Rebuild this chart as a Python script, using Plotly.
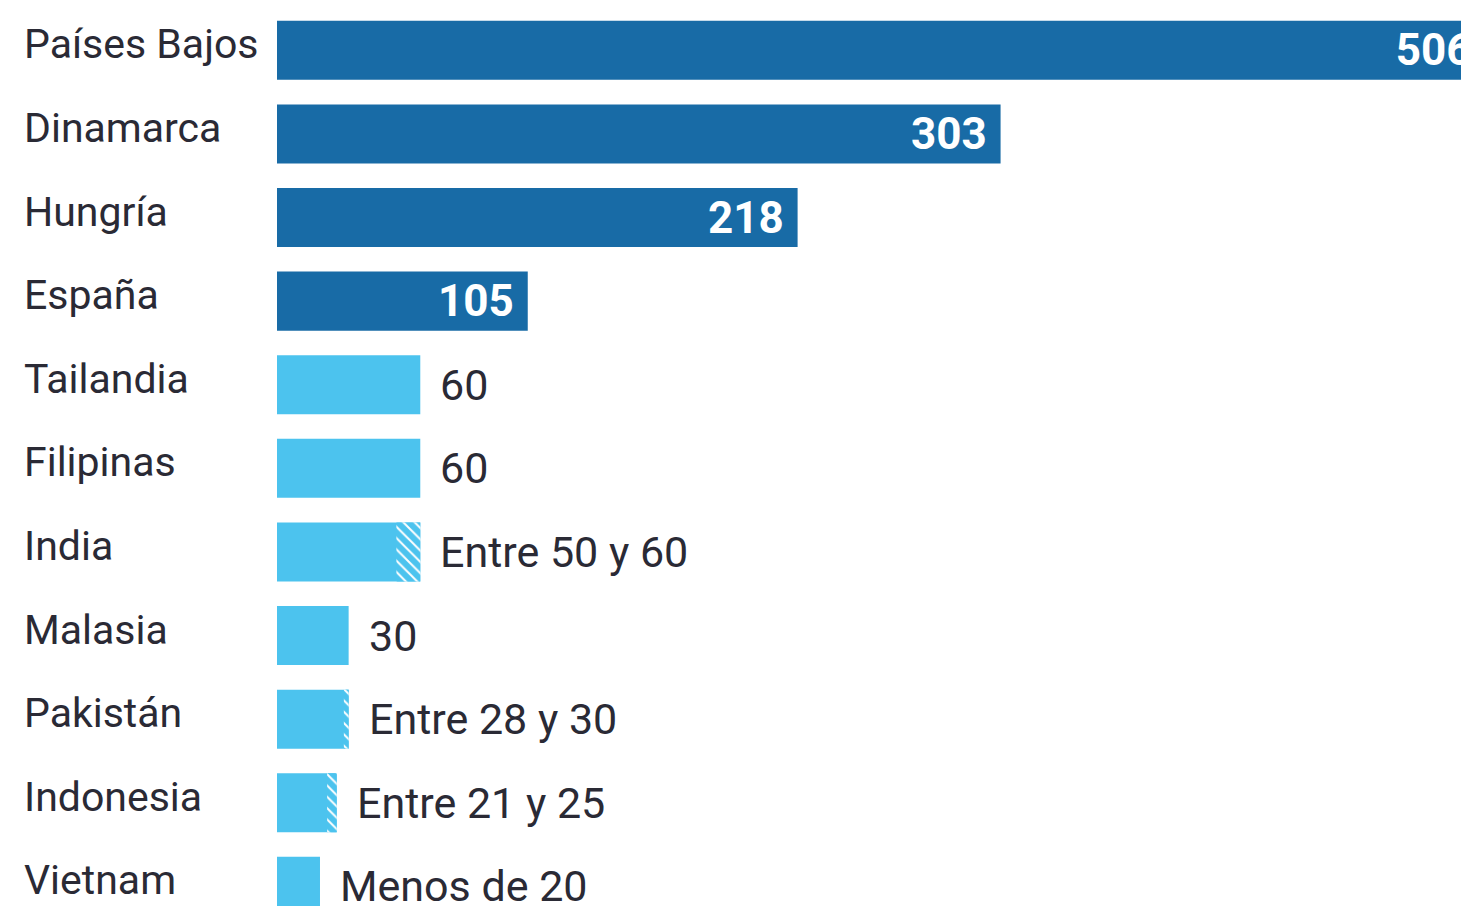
import plotly.graph_objects as go

# ---- data ----
countries = ["Países Bajos", "Dinamarca", "Hungría", "España", "Tailandia", "Filipinas",
             "India", "Malasia", "Pakistán", "Indonesia", "Vietnam"]
low_values = [506, 303, 218, 105, 60, 60, 50, 30, 28, 21, 18]
high_values = [506, 303, 218, 105, 60, 60, 60, 30, 30, 25, 18]
value_labels = ["506", "303", "218", "105", "60", "60", "Entre 50 y 60", "30",
                "Entre 28 y 30", "Entre 21 y 25", "Menos de 20"]
highlight = [True, True, True, True, False, False, False, False, False, False, False]

DARK = "#186ba6"
LIGHT = "#4cc3ee"
TEXT = "#2a2a35"
FONT = "Roboto"

colors = [DARK if h else LIGHT for h in highlight]
inside_text = [lab + "\u00a0" if h else "" for lab, h in zip(value_labels, highlight)]

fig = go.Figure()

# full bars (solid)
fig.add_trace(go.Bar(
    y=countries, x=high_values, orientation="h",
    marker=dict(color=colors, line=dict(width=0)),
    width=0.706,
    text=inside_text, textposition="inside", insidetextanchor="end",
    insidetextfont=dict(family=FONT, size=44, color="white", weight="bold"),
    textangle=0, constraintext="none", cliponaxis=True,
    hoverinfo="skip", showlegend=False,
))

# hatched uncertainty ranges
range_len = [hi - lo for lo, hi in zip(low_values, high_values)]
fig.add_trace(go.Bar(
    y=countries, x=range_len, base=low_values, orientation="h",
    marker=dict(color=LIGHT, line=dict(width=0),
                pattern=dict(shape="\\", fgcolor="white", bgcolor=LIGHT,
                             size=8, solidity=0.25, fillmode="replace")),
    width=0.706, hoverinfo="skip", showlegend=False,
))

annotations = []
for c in countries:
    annotations.append(dict(
        xref="paper", yref="y", x=-0.2155, y=c, text=c, showarrow=False,
        xanchor="left", yanchor="middle", yshift=6,
        font=dict(family=FONT, size=41, color=TEXT),
    ))
for c, hi, lab, h in zip(countries, high_values, value_labels, highlight):
    if h:
        continue
    annotations.append(dict(
        xref="x", yref="y", x=hi, y=c, text=lab, showarrow=False,
        xanchor="left", yanchor="middle", xshift=18, yshift=0,
        font=dict(family=FONT, size=43, color=TEXT),
    ))

fig.update_layout(
    width=1461, height=906,
    margin=dict(l=277, r=0, t=0, b=0),
    paper_bgcolor="white", plot_bgcolor="white",
    barmode="overlay",
    xaxis=dict(range=[0, 495.8], visible=False, fixedrange=True),
    yaxis=dict(type="category", categoryorder="array", categoryarray=countries,
               range=[10.235, -0.6017], visible=False, fixedrange=True),
    annotations=annotations,
    font=dict(family=FONT),
)

fig.write_html("out.html", config={"displayModeBar": False},
               post_script="document.body.style.margin='0';document.body.style.overflow='hidden';")
